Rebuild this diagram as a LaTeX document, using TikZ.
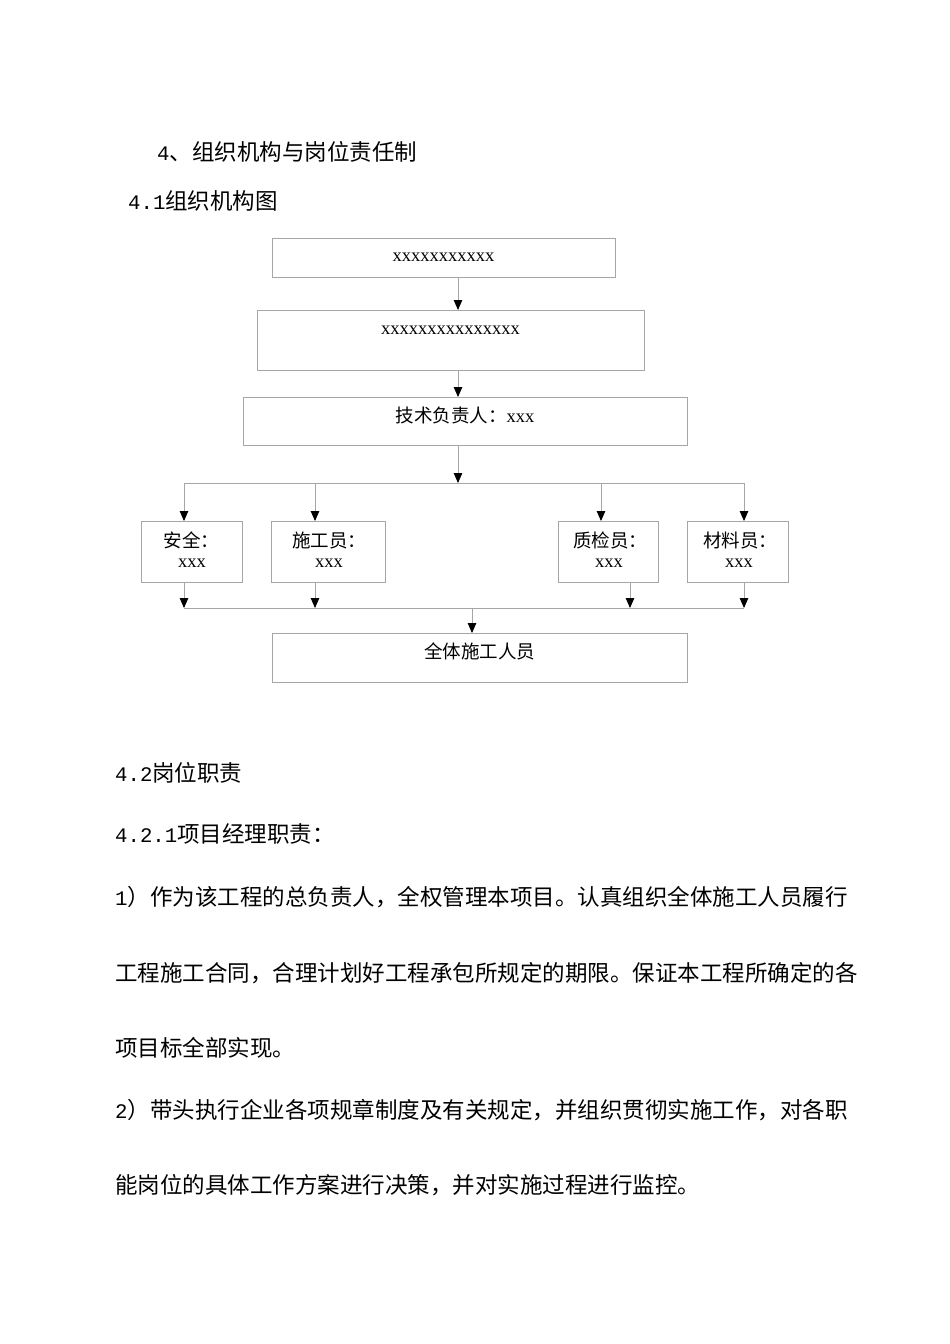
\documentclass[tikz,border=0pt]{standalone}
\usepackage{fontspec}
\setmainfont{Noto Sans CJK SC}
\newfontfamily\lat{Liberation Serif}
\newfontfamily\dig[Scale=0.92]{Liberation Mono}
\usetikzlibrary{arrows.meta}
\definecolor{linegray}{HTML}{A6A6A6}
\begin{document}
\begin{tikzpicture}[x=1pt,y=-1pt,
  box/.style={draw=linegray, line width=0.9pt, rectangle, inner sep=0pt, anchor=north west},
  ctext/.style={inner sep=0pt, font=\fontsize{18.5}{22}\selectfont},
  btext/.style={inner sep=0pt, anchor=west, font=\fontsize{22.5}{27}\selectfont},
  conn/.style={draw=linegray, line width=0.9pt},
  arr/.style={draw=linegray, line width=0.9pt, -{Triangle[width=8.5pt,length=10pt,color=black]}}
]
\fill[white] (0,0) rectangle (950,1344);
\useasboundingbox (0,0) rectangle (950,1344);

% headings
\node[btext] (h1) at (157,152) {{\dig 4}、组织机构与岗位责任制};
\node[btext] (h2) at (128,201) {{\dig 4.1}组织机构图};

% boxes
\node[box, minimum width=343pt, minimum height=39pt] (b1) at (272,238) {};
\node[box, minimum width=387pt, minimum height=60pt] (b2) at (257,310) {};
\node[box, minimum width=444pt, minimum height=48pt] (b3) at (243,397) {};
\node[box, minimum width=101pt, minimum height=61pt] (s1) at (141,521) {};
\node[box, minimum width=114pt, minimum height=61pt] (s2) at (271,521) {};
\node[box, minimum width=100pt, minimum height=61pt] (s3) at (558,521) {};
\node[box, minimum width=101pt, minimum height=61pt] (s4) at (687,521) {};
\node[box, minimum width=415pt, minimum height=49pt] (b5) at (272,633) {};

% box texts
\node[ctext] (t1) at (443.5,257) {\lat xxxxxxxxxxx};
\node[ctext] (t2) at (450.5,330) {\lat xxxxxxxxxxxxxxx};
\node[ctext] (t3) at (465,415) {技术负责人：{\lat xxx}};
\node[ctext] (t4a) at (191.5,540) {安全：};
\node[ctext] (t4b) at (192,563) {\lat xxx};
\node[ctext] (t5a) at (329,540) {施工员：};
\node[ctext] (t5b) at (329,563) {\lat xxx};
\node[ctext] (t6a) at (610,540) {质检员：};
\node[ctext] (t6b) at (609,563) {\lat xxx};
\node[ctext] (t7a) at (740,540) {材料员：};
\node[ctext] (t7b) at (739,563) {\lat xxx};
\node[ctext] (t8) at (479.5,651) {全体施工人员};

% coordinates for connector positions
\coordinate (m1) at (458,0);
\coordinate (j1) at (458,483);
\coordinate (a1) at (184,483);
\coordinate (a2) at (315,483);
\coordinate (a3) at (601,483);
\coordinate (a4) at (744,483);
\coordinate (j2) at (472,608);
\coordinate (c1) at (184,608);
\coordinate (c2) at (315,608);
\coordinate (c3) at (630,608);
\coordinate (c4) at (744,608);

% connectors
\draw[arr] (b1.south -| m1) -- (b2.north -| m1);
\draw[arr] (b2.south -| m1) -- (b3.north -| m1);
\draw[arr] (b3.south -| m1) -- (j1);
\draw[conn] (a1) -- (a4);
\draw[arr] (a1) -- (s1.north -| a1);
\draw[arr] (a2) -- (s2.north -| a2);
\draw[arr] (a3) -- (s3.north -| a3);
\draw[arr] (a4) -- (s4.north -| a4);
\draw[arr] (s1.south -| c1) -- (c1);
\draw[arr] (s2.south -| c2) -- (c2);
\draw[arr] (s3.south -| c3) -- (c3);
\draw[arr] (s4.south -| c4) -- (c4);
\draw[conn] (c1) -- (c4);
\draw[arr] (j2) -- (b5.north -| j2);

% body text
\node[btext] (p1) at (115,773) {{\dig 4.2}岗位职责};
\node[btext] (p2) at (115,834) {{\dig 4.2.1}项目经理职责：};
\node[btext] (p3) at (115,897) {{\dig 1}）作为该工程的总负责人，全权管理本项目。认真组织全体施工人员履行};
\node[btext] (p4) at (115,973) {工程施工合同，合理计划好工程承包所规定的期限。保证本工程所确定的各};
\node[btext] (p5) at (115,1048) {项目标全部实现。};
\node[btext] (p6) at (115,1110) {{\dig 2}）带头执行企业各项规章制度及有关规定，并组织贯彻实施工作，对各职};
\node[btext] (p7) at (115,1185) {能岗位的具体工作方案进行决策，并对实施过程进行监控。};
\end{tikzpicture}
\end{document}
